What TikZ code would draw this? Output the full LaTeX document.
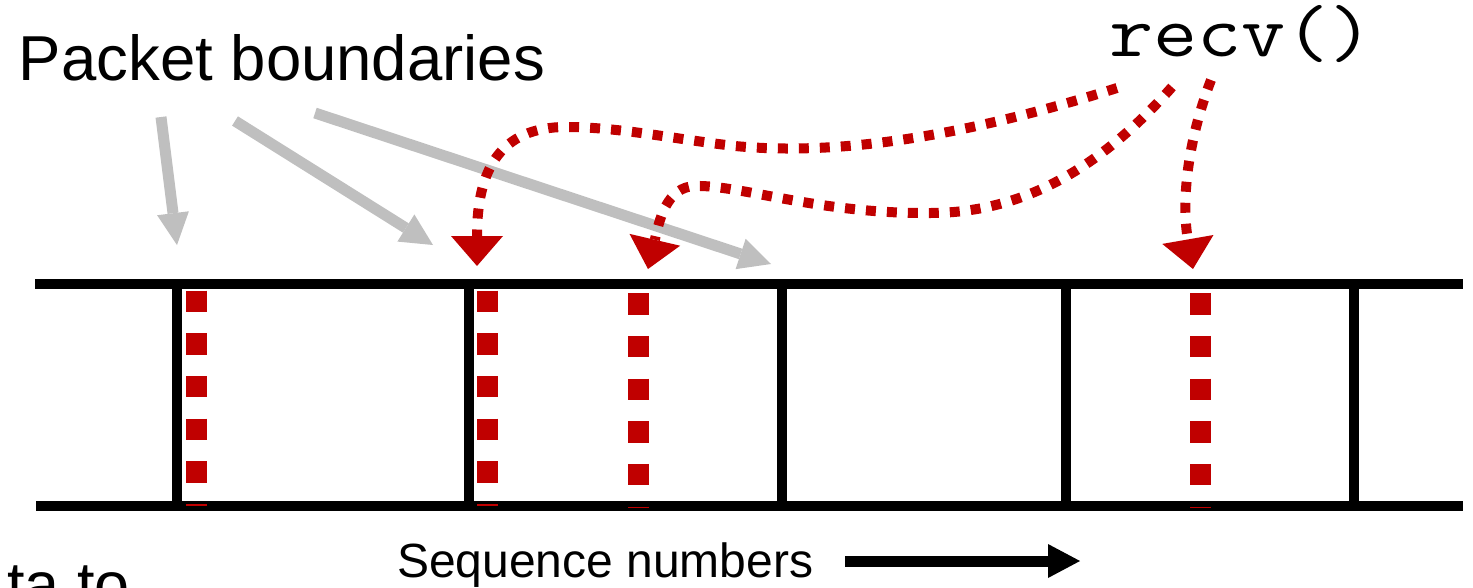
\documentclass[tikz,border=0pt]{standalone}
\usepackage{fontspec}
\setmainfont{Liberation Sans}
\usetikzlibrary{arrows.meta}
\definecolor{recvred}{RGB}{192,0,0}
\definecolor{bndgray}{RGB}{191,191,191}
\begin{document}
\begin{tikzpicture}[x=1pt,y=-1pt,
  rail/.style={line width=10pt, black},
  boundary/.style={line width=10pt, black},
  readptr/.style={recvred, line width=21pt, dash pattern=on 21.33pt off 21.33pt},
  callpath/.style={recvred, line width=10pt, dash pattern=on 10pt off 11pt,
    -{Triangle[width=52pt,length=30pt,line width=0pt]}},
  pointer/.style={bndgray, line width=11pt,
    -{Triangle[width=32pt,length=32pt,line width=0pt]}},
  seqarrow/.style={black, line width=11pt,
    -{Triangle[width=34pt,length=32pt,line width=0pt]}},
  lbl/.style={inner sep=0pt, outer sep=0pt}]
\useasboundingbox (0,0) rectangle (1473,587);

% buffer rails and packet boundaries
\draw[rail] (35,284.3) -- (1463,284.3);
\draw[rail] (36,505.5) -- (1463,505.5);
\foreach \bx in {177,468.5,782,1066,1354}
  \draw[boundary] (\bx,284.3) -- (\bx,505.5);

% positions where recv() calls return
\foreach \rx/\ry in {196/290.7,487.5/290.7,638.5/293.3,1200.5/293.3}
  \draw[readptr] (\rx,\ry) -- (\rx,\ry+215);

% labels
\node[lbl, anchor=base west, font=\fontsize{63.5}{70}\selectfont] (pktlbl) at (19,80) {Packet boundaries};
\node[lbl, anchor=base west, font=\fontsize{80}{90}\selectfont\ttfamily] (recvlbl) at (1109,56) {\scalebox{1.07}[0.92]{recv()}};
\node[lbl, anchor=base west, font=\fontsize{48}{56}\selectfont] (seqlbl) at (397,577) {Sequence numbers};
\node[lbl, anchor=base east, font=\fontsize{63}{70}\selectfont] (cuttext) at (130,606) {ta to};

% end points of the pointers
\coordinate (pa0) at (161,117);  \coordinate (pa1) at (177,245);
\coordinate (pb0) at (235,121);  \coordinate (pb1) at (433,245);
\coordinate (pc0) at (315,113);  \coordinate (pc1) at (771,264);
\coordinate (ra0) at (1117,88);  \coordinate (ra1) at (477,266);
\coordinate (rb0) at (1172,87);  \coordinate (rb1) at (648,269);
\coordinate (rc0) at (1211,80);  \coordinate (rc1) at (1193,269);
\coordinate (sq0) at (845,561);  \coordinate (sq1) at (1080,561);

% grey pointers to packet boundaries
\draw[pointer] (pa0) -- (pa1);
\draw[pointer] (pb0) -- (pb1);
\draw[pointer] (pc0) -- (pc1);

% recv() return points
\draw[callpath] (ra0) .. controls (1000,125) and (860,158) .. (735,146)
  .. controls (680,140) and (620,127) .. (566,127)
  .. controls (500,127) and (477,170) .. (ra1);
\draw[callpath] (rb0) .. controls (1090,180) and (1010,213) .. (930,213)
  .. controls (820,214) and (740,185) .. (696,186)
  .. controls (666,186) and (659,222) .. (rb1);
\draw[callpath] (rc0) .. controls (1188,140) and (1181,200) .. (rc1);

% sequence direction
\draw[seqarrow] (sq0) -- (sq1);
\end{tikzpicture}
\end{document}
